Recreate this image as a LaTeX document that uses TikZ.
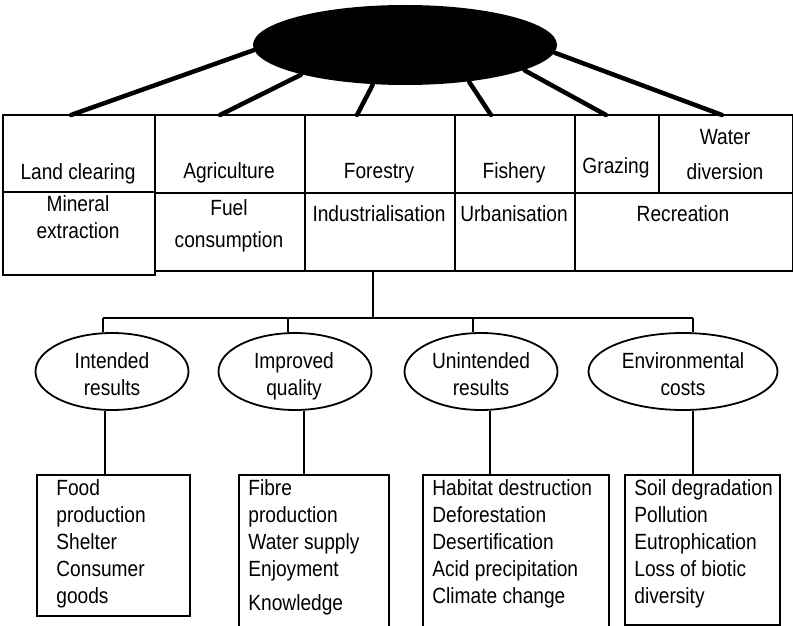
\documentclass[tikz,border=0pt]{standalone}
\usepackage{fontspec}
\setmainfont{Liberation Sans}[FakeStretch=0.87]
\usetikzlibrary{shapes.geometric}
\newcommand{\txtsize}{\fontsize{22}{27}\selectfont}

\begin{document}
\begin{tikzpicture}[x=1pt,y=-1pt,line width=1.8pt,
  cell/.style={draw,rectangle,anchor=north west,inner sep=0pt},
  txt/.style={anchor=north,align=center,inner sep=0pt,font=\txtsize},
  ltxt/.style={anchor=north west,align=left,inner sep=0pt,font=\txtsize},
  oval/.style={draw,ellipse,inner sep=0pt,minimum width=153pt,minimum height=77pt},
  spoke/.style={line width=4.5pt,line cap=round}]

\useasboundingbox (0,0) rectangle (793,626);

% source blob and its spokes
\node[ellipse,fill=black,inner sep=0pt,minimum width=304pt,minimum height=80pt] (src) at (405,45) {};
\coordinate (s1) at (71,115);
\coordinate (s2) at (220,115);
\coordinate (s3) at (357,115);
\coordinate (s4) at (491,115);
\coordinate (s5) at (606,115);
\coordinate (s6) at (722,115);
\draw[spoke] (src.182) -- (s1);
\draw[spoke] (src.196) -- (s2);
\draw[spoke] (src.231) -- (s3);
\draw[spoke] (src.330) -- (s4);
\draw[spoke] (src.348) -- (s5);
\draw[spoke] (src.357) -- (s6);

% activities
\node[cell,minimum width=152pt,minimum height=77pt] (c1) at (2,114) {};
\node[cell,minimum width=150pt,minimum height=78pt] (c2) at (154,114) {};
\node[cell,minimum width=150pt,minimum height=78pt] (c3) at (304,114) {};
\node[cell,minimum width=120pt,minimum height=78pt] (c4) at (454,114) {};
\node[cell,minimum width=84pt,minimum height=78pt] (c5) at (574,114) {};
\node[cell,minimum width=134pt,minimum height=78pt] (c6) at (658,114) {};
\node[cell,minimum width=152pt,minimum height=83pt] (d1) at (2,191) {};
\node[cell,minimum width=150pt,minimum height=78pt] (d2) at (154,192) {};
\node[cell,minimum width=150pt,minimum height=78pt] (d3) at (304,192) {};
\node[cell,minimum width=120pt,minimum height=78pt] (d4) at (454,192) {};
\node[cell,minimum width=218pt,minimum height=78pt] (d5) at (574,192) {};

\node[txt] (c1t) at (78,160) {\strut Land clearing};
\node[txt] (c2t) at (229,159) {\strut Agriculture};
\node[txt] (c3t) at (379,159) {\strut Forestry};
\node[txt] (c4t) at (514,159) {\strut Fishery};
\node[txt] (c5t) at (616,154) {\strut Grazing};
\node[txt] (c6t) at (725,125) {\strut Water\\[8pt]diversion};
\node[txt] (d1t) at (78,192) {\strut Mineral\\extraction};
\node[txt] (d2t) at (229,196) {\strut Fuel\\[5pt]consumption};
\node[txt] (d3t) at (379,202) {\strut Industrialisation};
\node[txt] (d4t) at (514,202) {\strut Urbanisation};
\node[txt] (d5t) at (683,202) {\strut Recreation};

% consequences
\node[oval] (e1) at (112,371.5) {};
\node[oval] (e2) at (295,371.5) {};
\node[oval] (e3) at (481,371.5) {};
\node[oval,minimum width=189pt] (e4) at (683,371.5) {};
\node[txt] (e1t) at (112,349) {\strut Intended\\results};
\node[txt] (e2t) at (294,349) {\strut Improved\\quality};
\node[txt] (e3t) at (481,349) {\strut Unintended\\results};
\node[txt] (e4t) at (683,349) {\strut Environmental\\costs};

\coordinate (hub) at (373,318);
\coordinate (b1) at (103,318);
\coordinate (b2) at (288,318);
\coordinate (b3) at (473,318);
\coordinate (b4) at (693,318);
\draw (hub |- d3.south) -- (hub);
\draw (b1) -- (b4);
\draw (b1) -- (b1 |- e1.north);
\draw (b2) -- (b2 |- e2.north);
\draw (b3) -- (b3 |- e3.north);
\draw (b4) -- (b4 |- e4.north);

% examples
\node[cell,minimum width=153pt,minimum height=141pt] (r1) at (36,474) {};
\node[cell,minimum width=150pt,minimum height=152pt] (r2) at (238,474) {};
\node[cell,minimum width=186pt,minimum height=152pt] (r3) at (422,474) {};
\node[cell,minimum width=155pt,minimum height=150pt] (r4) at (624,474) {};

\draw ([xshift=-7pt]e1.south) -- ([xshift=-7pt]e1.south |- r1.north);
\draw ([xshift=9pt]e2.south) -- ([xshift=9pt]e2.south |- r2.north);
\draw ([xshift=9pt]e3.south) -- ([xshift=9pt]e3.south |- r3.north);
\draw ([xshift=10pt]e4.south) -- ([xshift=10pt]e4.south |- r4.north);

\node[ltxt] (r1t) at (55.5,476) {\strut Food\\production\\Shelter\\Consumer\\goods};
\node[ltxt] (r2t) at (247.5,476) {\strut Fibre\\production\\Water supply\\Enjoyment\\[7pt]Knowledge};
\node[ltxt] (r3t) at (431.5,476) {\strut Habitat destruction\\Deforestation\\Desertification\\Acid precipitation\\Climate change};
\node[ltxt] (r4t) at (633.5,476) {\strut Soil degradation\\Pollution\\Eutrophication\\Loss of biotic\\diversity};

\end{tikzpicture}
\end{document}
